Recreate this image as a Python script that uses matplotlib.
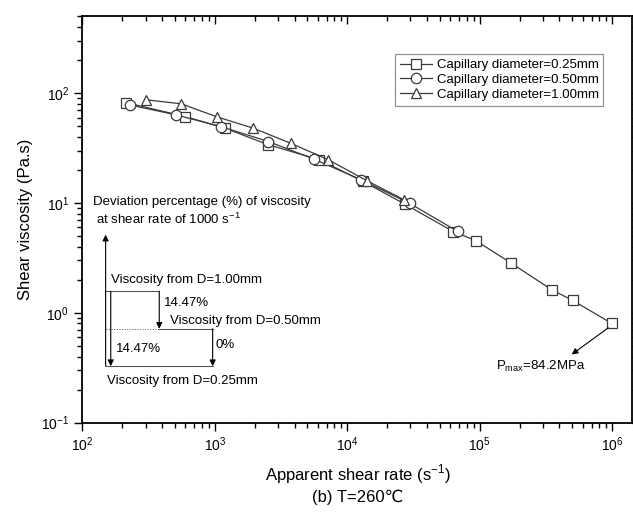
import matplotlib.pyplot as plt
import numpy as np

plt.rcParams['font.family'] = ['Liberation Sans', 'DejaVu Sans']
plt.rcParams['mathtext.fontset'] = 'custom'
plt.rcParams['mathtext.rm'] = 'Liberation Sans'

# data
rate_025 = [214, 596, 1194, 2535, 6150, 13200, 27500, 63100, 93600, 171800, 350000, 502000, 995000]
visc_025 = [82, 61.3, 48, 33.9, 24.8, 15.7, 9.7, 5.5, 4.54, 2.85, 1.62, 1.30, 0.80]
rate_050 = [229, 509, 1108, 2535, 5610, 12680, 29700, 68000]
visc_050 = [78, 63.5, 49.7, 36.3, 25.1, 16.3, 9.9, 5.52]
rate_100 = [303, 558, 1033, 1950, 3740, 7190, 14000, 26800]
visc_100 = [87, 80, 61, 48, 35, 24.8, 16, 10.7]
labels = ['Capillary diameter=0.25mm', 'Capillary diameter=0.50mm', 'Capillary diameter=1.00mm']

fig = plt.figure(figsize=(6.33, 5.17), dpi=100)
ax = fig.add_axes([0.130, 0.1824, 0.8684, 0.7872])

lc = '#3a3a3a'
style = dict(color=lc, lw=0.9, mfc='white', mec=lc, mew=0.9, ms=7.5)
ax.plot(rate_025, visc_025, marker='s', label=labels[0], **style)
ax.plot(rate_050, visc_050, marker='o', label=labels[1], **style)
ax.plot(rate_100, visc_100, marker='^', label=labels[2], **style)

ax.set_xscale('log')
ax.set_yscale('log')
ax.set_xlim(100, 1.41e6)
ax.set_ylim(0.1, 507)

for s in ax.spines.values():
    s.set_linewidth(1.3)

ax.tick_params(which='both', top=True, right=True, labelsize=10, width=1.0, direction='out')
ax.tick_params(which='major', length=6)
ax.tick_params(which='minor', length=3.5)
ax.xaxis.set_minor_locator(plt.matplotlib.ticker.LogLocator(base=10, subs=np.arange(2, 10), numticks=20))
ax.yaxis.set_minor_locator(plt.matplotlib.ticker.LogLocator(base=10, subs=np.arange(2, 10), numticks=20))
ax.xaxis.set_minor_formatter(plt.NullFormatter())
ax.yaxis.set_minor_formatter(plt.NullFormatter())
# top/right ticks point inward
for t in ax.xaxis.get_major_ticks() + ax.xaxis.get_minor_ticks():
    t.tick2line.set_marker(3)
for t in ax.yaxis.get_major_ticks() + ax.yaxis.get_minor_ticks():
    t.tick2line.set_marker(1)

ax.set_ylabel('Shear viscosity (Pa.s)', fontsize=12, labelpad=6)
fig.text(0.565, 1 - 474 / 517, 'Apparent shear rate (s$^{-1}$)', fontsize=12, ha='center', va='center')
fig.text(0.565, 1 - 497 / 517, '(b) T=260℃', fontsize=12, ha='center', va='center')

leg = ax.legend(loc='upper right', bbox_to_anchor=(0.948, 0.905), fontsize=9.5,
                frameon=True, fancybox=False, edgecolor='#777777', handlelength=2.4,
                handletextpad=0.4, borderpad=0.35, labelspacing=0.2, borderaxespad=0)
leg.get_frame().set_linewidth(0.9)

# deviation sketch
gc = '#555555'
aprops = dict(arrowstyle='-|>', color='black', lw=0.8, mutation_scale=9, shrinkA=0, shrinkB=0)
ax.annotate('', xy=(150, 5.15), xytext=(150, 0.327), arrowprops=aprops)
ax.annotate('', xy=(164, 0.327), xytext=(164, 1.57), arrowprops=aprops)
ax.annotate('', xy=(381, 0.716), xytext=(381, 1.57), arrowprops=aprops)
ax.annotate('', xy=(964, 0.327), xytext=(964, 0.716), arrowprops=aprops)
ax.plot([150, 381], [1.57, 1.57], color=gc, lw=0.8)
ax.plot([381, 964], [0.716, 0.716], color=gc, lw=0.8)
ax.plot([150, 964], [0.327, 0.327], color=gc, lw=0.8)
ax.plot([150, 381], [0.716, 0.716], color=gc, lw=0.7, ls=':')

fs = 9.5
ax.text(120, 10.3, 'Deviation percentage (%) of viscosity', fontsize=fs, va='center')
ax.text(127, 7.05, 'at shear rate of 1000 s$^{-1}$', fontsize=fs, va='center')
ax.text(164, 2.0, 'Viscosity from D=1.00mm', fontsize=fs, va='center')
ax.text(414, 1.23, '14.47%', fontsize=fs, va='center')
ax.text(459, 0.84, 'Viscosity from D=0.50mm', fontsize=fs, va='center')
ax.text(1020, 0.515, '0%', fontsize=fs, va='center')
ax.text(180, 0.473, '14.47%', fontsize=fs, va='center')
ax.text(153, 0.239, 'Viscosity from D=0.25mm', fontsize=fs, va='center')

# max pressure note
ax.annotate('', xy=(494000, 0.418), xytext=(933000, 0.73), arrowprops=aprops)
ax.text(132000, 0.327, 'P$_{\\mathregular{max}}$=84.2MPa', fontsize=fs, va='center')

fig.savefig('out.png', dpi=100)
